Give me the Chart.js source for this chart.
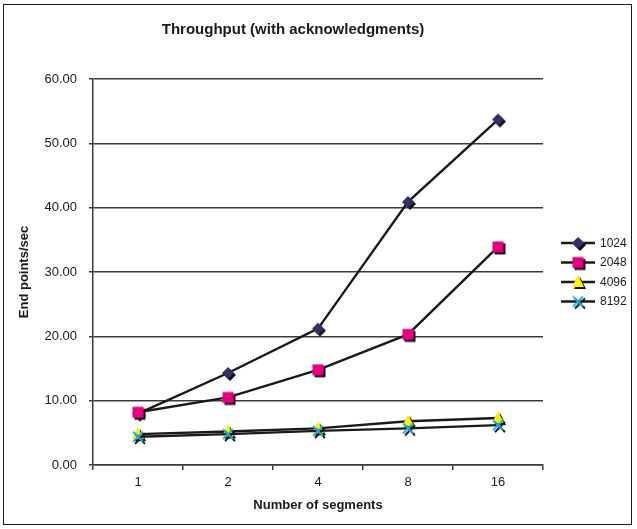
<!DOCTYPE html>
<html>
<head>
<meta charset="utf-8">
<script src="https://cdn.jsdelivr.net/npm/chart.js@4.4.1/dist/chart.umd.min.js"></script>
<style>
  html, body { margin: 0; padding: 0; background: #fff; }
  #wrap { position: relative; width: 637px; height: 529px; }
  #wrap canvas { position: absolute; left: 0; top: 0; }
  #frame { position: absolute; left: 3px; top: 4px; width: 627px; height: 519px;
           border: 1px solid #1a1a1a; pointer-events: none; }
</style>
</head>
<body>
<div id="wrap">
  <canvas id="chart" width="637" height="529"></canvas>
  <div id="frame"></div>
</div>
<script>
// Throughput measurements per segment count, one series per buffer size
const segments   = ['1', '2', '4', '8', '16'];
const series1024 = [8.0, 14.3, 21.2, 40.9, 53.7];
const series2048 = [8.2, 10.5, 14.8, 20.3, 33.9];
const series4096 = [4.8, 5.2, 5.7, 6.8, 7.3];
const series8192 = [4.4, 4.8, 5.3, 5.7, 6.2];
const seriesNames = ['1024', '2048', '4096', '8192'];

const chartTitle = 'Throughput (with acknowledgments)';
const xTitle = 'Number of segments';
const yTitle = 'End points/sec';

const FONT = '"Liberation Sans", Arial, Helvetica, sans-serif';
const INK = '#1a1a1a';
const GRID = '#3a3a3a';

// Marker sprites with a small drop shadow
function marker(kind, fill) {
  const c = document.createElement('canvas');
  c.width = 26; c.height = 26;
  const g = c.getContext('2d');
  const shape = (dx, dy, color) => {
    g.save();
    g.translate(13 + dx, 13 + dy);
    g.fillStyle = color;
    g.strokeStyle = color;
    g.beginPath();
    if (kind === 'diamond') {
      g.moveTo(0, -6); g.lineTo(6, 0); g.lineTo(0, 6); g.lineTo(-6, 0); g.closePath(); g.fill();
    } else if (kind === 'square') {
      g.rect(-5.5, -5.5, 11, 11); g.fill();
    } else if (kind === 'triangle') {
      g.moveTo(0, -7); g.lineTo(6, 5); g.lineTo(-6, 5); g.closePath(); g.fill();
    } else {
      g.lineWidth = 1.8;
      g.moveTo(-5, -5); g.lineTo(5, 5);
      g.moveTo(5, -5); g.lineTo(-5, 5);
      g.stroke();
    }
    g.restore();
  };
  shape(2, 2, '#111');
  shape(0, 0, fill);
  return c;
}

const markers = [
  marker('diamond', '#2f3168'),
  marker('square', '#e4007f'),
  marker('triangle', '#fff200'),
  marker('cross', '#1ab0ea')
];
const values = [series1024, series2048, series4096, series8192];

const datasets = values.map((v, i) => ({
  label: seriesNames[i],
  data: v,
  borderColor: INK,
  borderWidth: 2.4,
  pointStyle: markers[i],
  pointRadius: 6,
  pointHoverRadius: 6,
  tension: 0,
  fill: false,
  order: values.length - 1 - i
}));

// Title drawn at the position used in the original layout
const titlePlugin = {
  id: 'chartTitle',
  afterDraw(chart) {
    const ctx = chart.ctx;
    ctx.save();
    ctx.font = 'bold 15px ' + FONT;
    ctx.fillStyle = INK;
    ctx.textAlign = 'center';
    ctx.textBaseline = 'middle';
    ctx.fillText(chartTitle, 293, 30);
    ctx.restore();
  }
};

// Legend: line sample with marker, then series name
const legendPlugin = {
  id: 'lineLegend',
  afterDraw(chart) {
    const ctx = chart.ctx;
    ctx.save();
    chart.data.datasets.forEach((ds, i) => {
      const y = 243 + i * 19.5;
      ctx.strokeStyle = INK;
      ctx.lineWidth = 2.4;
      ctx.beginPath();
      ctx.moveTo(561, y); ctx.lineTo(595, y);
      ctx.stroke();
      const m = ds.pointStyle;
      ctx.drawImage(m, 578 - m.width / 2, y - m.height / 2);
      ctx.font = '12px ' + FONT;
      ctx.fillStyle = INK;
      ctx.textAlign = 'left';
      ctx.textBaseline = 'middle';
      ctx.fillText(ds.label, 600, y + 0.5);
    });
    ctx.restore();
  }
};

new Chart(document.getElementById('chart'), {
  type: 'line',
  data: { labels: segments, datasets },
  plugins: [titlePlugin, legendPlugin],
  options: {
    responsive: false,
    animation: false,
    events: [],
    layout: { padding: { left: 0, right: 94, top: 79, bottom: 0 } },
    plugins: { legend: { display: false }, title: { display: false }, tooltip: { enabled: false } },
    scales: {
      x: {
        type: 'category',
        offset: true,
        afterFit(s) { s.height = 64; },
        grid: { display: true, offset: true, drawOnChartArea: false, drawTicks: true,
                tickLength: 5, color: GRID, lineWidth: 1.5 },
        border: { display: true, color: GRID, width: 1.5 },
        ticks: { color: INK, font: { family: FONT, size: 13 }, padding: 5 },
        title: { display: true, text: xTitle, color: INK,
                 font: { family: FONT, size: 13, weight: 'bold' }, padding: { top: 0, bottom: 16 } }
      },
      y: {
        min: 0, max: 60,
        afterFit(s) { s.width = 93; },
        grid: { color: GRID, lineWidth: 1.5, drawTicks: true, tickLength: 4 },
        border: { display: true, color: GRID, width: 1.5 },
        ticks: { stepSize: 10, color: INK, font: { family: FONT, size: 13 }, padding: 12,
                 callback: v => Number(v).toFixed(2) },
        title: { display: true, text: yTitle, color: INK,
                 font: { family: FONT, size: 13, weight: 'bold' }, padding: { top: 17, bottom: 0 } }
      }
    }
  }
});
</script>
</body>
</html>
